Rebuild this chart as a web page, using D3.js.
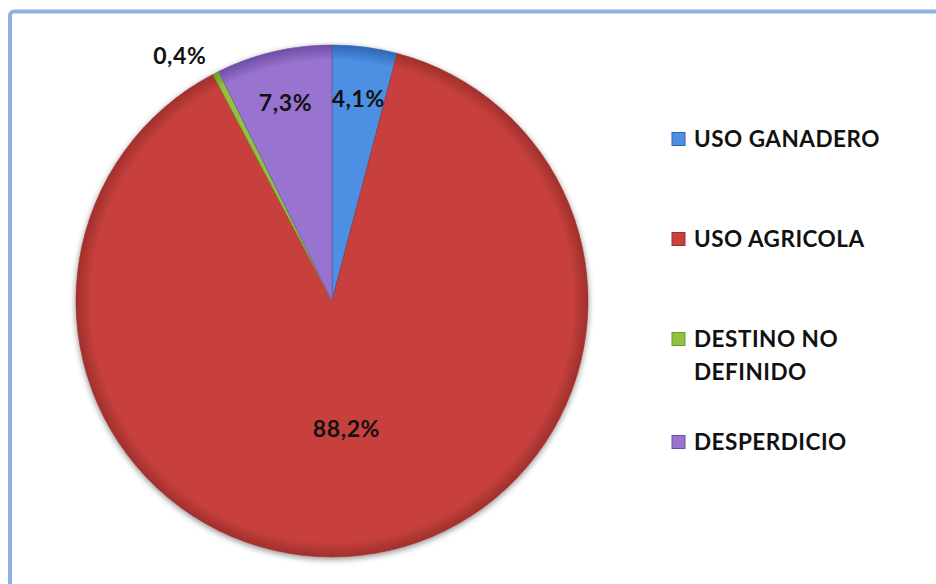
<!DOCTYPE html>
<html><head><meta charset="utf-8">
<script src="https://cdn.jsdelivr.net/npm/d3@7"></script>
<style>html,body{margin:0;padding:0;background:#fff;}svg{display:block;}</style>
</head><body>
<script>
const categories = ["USO GANADERO", "USO AGRICOLA", "DESTINO NO DEFINIDO", "DESPERDICIO"];
const values = [4.1, 88.2, 0.4, 7.3];
const valueLabels = ["4,1%", "88,2%", "0,4%", "7,3%"];
const legendLines = [["USO GANADERO"], ["USO AGRICOLA"], ["DESTINO NO", "DEFINIDO"], ["DESPERDICIO"]];
const colors = ["#4d8fe2", "#c7413d", "#91c23f", "#9873cf"];
const darkColors = ["#2f66b5", "#a02f2c", "#6a9a28", "#6f4ea6"];

const W = 936, H = 584;
const svg = d3.select("body").append("svg").attr("width", W).attr("height", H);
const defs = svg.append("defs");

// frame (only top/left visible)
svg.append("rect").attr("x", 10).attr("y", 11.5).attr("width", 960).attr("height", 620)
  .attr("rx", 4).attr("fill", "none").attr("stroke", "#8eb1e2").attr("stroke-width", 4);

const cx = 332, cy = 301, R = 256;

const f = defs.append("filter").attr("id", "sh").attr("x", "-20%").attr("y", "-20%").attr("width", "140%").attr("height", "140%");
f.append("feGaussianBlur").attr("in", "SourceAlpha").attr("stdDeviation", 3).attr("result", "b");
f.append("feOffset").attr("in", "b").attr("dx", 0).attr("dy", 2).attr("result", "o");
f.append("feComponentTransfer").attr("in", "o").attr("result", "o2").append("feFuncA").attr("type", "linear").attr("slope", 0.45);
const m = f.append("feMerge"); m.append("feMergeNode").attr("in", "o2"); m.append("feMergeNode").attr("in", "SourceGraphic");

colors.forEach((c, i) => {
  const g = defs.append("radialGradient").attr("id", "g" + i)
    .attr("gradientUnits", "userSpaceOnUse").attr("cx", 0).attr("cy", 0).attr("r", R);
  g.append("stop").attr("offset", "0%").attr("stop-color", c);
  g.append("stop").attr("offset", "94%").attr("stop-color", c);
  g.append("stop").attr("offset", "100%").attr("stop-color", darkColors[i]);
});

const pie = d3.pie().sort(null).value(d => d)(values);
const arc = d3.arc().innerRadius(0).outerRadius(R);
const gPie = svg.append("g").attr("transform", `translate(${cx},${cy})`).attr("filter", "url(#sh)");
gPie.selectAll("path").data(pie).join("path")
  .attr("d", arc)
  .attr("fill", (d, i) => `url(#g${i})`)
  .attr("stroke", (d, i) => darkColors[i]).attr("stroke-width", 0.8).attr("stroke-opacity", 0.8);

const font = "Lato, 'Open Sans', sans-serif";
const labG = svg.append("g").attr("transform", `translate(${cx},${cy})`);
labG.selectAll("text").data(pie).join("text")
  .attr("transform", d => {
    const a = (d.startAngle + d.endAngle) / 2;
    const span = d.endAngle - d.startAngle;
    let r = span > Math.PI ? 0.5 * R : (span < 0.05 ? 1.08 * R : 0.8 * R);
    return `translate(${Math.sin(a) * r},${-Math.cos(a) * r})`;
  })
  .attr("text-anchor", d => (d.endAngle - d.startAngle) < 0.05 ? "end" : "middle")
  .attr("dominant-baseline", "central")
  .attr("font-family", font).attr("font-weight", 700).attr("font-size", 23)
  .attr("letter-spacing", 0.6)
  .attr("fill", "#111")
  .text((d, i) => valueLabels[i]);

// legend
const legY = [139, 239, 339, 442];
const leg = svg.append("g");
categories.forEach((c, i) => {
  const g = leg.append("g").attr("transform", `translate(672,${legY[i]})`);
  g.append("rect").attr("x", 0).attr("y", -6.5).attr("width", 13).attr("height", 13)
    .attr("fill", colors[i]).attr("stroke", darkColors[i]).attr("stroke-width", 1);
  const t = g.append("text").attr("x", 22).attr("y", 0)
    .attr("font-family", font).attr("font-weight", 700).attr("font-size", 22.5)
    .attr("letter-spacing", 0.5).attr("fill", "#111");
  legendLines[i].forEach((ln, j) => {
    t.append("tspan").attr("x", 22).attr("dy", j === 0 ? "0.36em" : "1.45em").text(ln);
  });
});
</script>
</body></html>
